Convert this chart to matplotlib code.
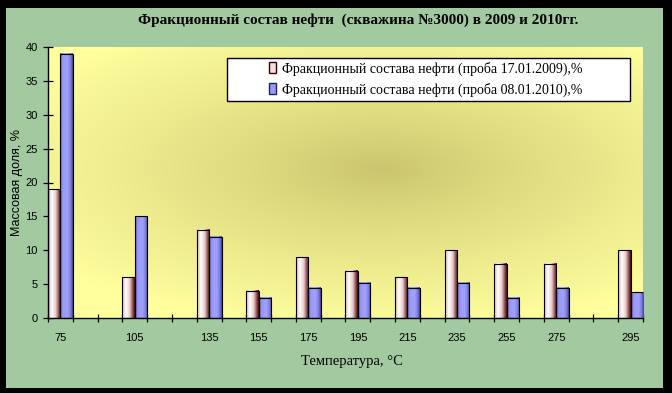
import numpy as np
import matplotlib
matplotlib.use('Agg')
from matplotlib import pyplot as plt
from matplotlib.colors import LinearSegmentedColormap
from matplotlib.patches import Rectangle

# категории оси X (пустые позиции - пропуски на оси)
temps = ['75', '', '', '105', '', '', '135', '', '155', '', '175', '',
         '195', '', '215', '', '235', '', '255', '', '275', '', '', '295']
nan = np.nan
s2009 = [19, nan, nan, 6, nan, nan, 13, nan, 4, nan, 9, nan,
         7, nan, 6, nan, 10, nan, 8, nan, 8, nan, nan, 10]
s2010 = [39, nan, nan, 15, nan, nan, 12, nan, 3, nan, 4.5, nan,
         5.2, nan, 4.5, nan, 5.2, nan, 3, nan, 4.5, nan, nan, 3.8]
labels = ['Фракционный состава нефти (проба 17.01.2009),%',
          'Фракционный состава нефти (проба 08.01.2010),%']

W, H = 672, 393
fig = plt.figure(figsize=(W / 100, H / 100), dpi=100)
fig.patch.set_facecolor('black')
fig.patches.append(Rectangle((6 / W, 1 - 388 / H), 657 / W, 380 / H,
                             transform=fig.transFigure, facecolor='#a2c9a0',
                             edgecolor='none', zorder=-1))

ax = fig.add_axes([48 / W, 1 - 318 / H, 595 / W, 271 / H])
ax.set_zorder(1)
ax.set_facecolor('none')

# фон области построения - радиальная заливка
gx, gy = np.meshgrid(np.linspace(0, 1, 300), np.linspace(0, 1, 200))
d = np.sqrt(((gx - 0.56) / 0.7) ** 2 + ((gy - 0.55) / 0.6) ** 2)
d = np.clip(d, 0, 1) ** 0.85
c_in = np.array([0.79, 0.77, 0.43])
c_out = np.array([1.0, 1.0, 0.62])
bg = c_in[None, None, :] * (1 - d[..., None]) + c_out[None, None, :] * d[..., None]
ax.imshow(bg, extent=(0, 1, 0, 1), transform=ax.transAxes, origin='lower',
          aspect='auto', zorder=0)

cm1 = LinearSegmentedColormap.from_list('c1', [(0, '#d9b3b3'), (0.3, '#ffffff'),
                                               (0.6, '#e8cccc'), (0.85, '#8a4a4a'),
                                               (1, '#4a0000')])
cm2 = LinearSegmentedColormap.from_list('c2', [(0, '#5050b0'), (0.2, '#9a9af5'),
                                               (0.6, '#a0a0ff'), (0.85, '#7878d8'),
                                               (1, '#404090')])
grad = np.linspace(0, 1, 64)[None, :]
x = np.arange(len(temps))
bw = 0.5
for vals, off, cmap in ((s2009, -bw / 2, cm1), (s2010, bw / 2, cm2)):
    for xi, v in zip(x, vals):
        if np.isnan(v):
            continue
        x0 = xi + off - bw / 2
        ax.imshow(grad, extent=(x0, x0 + bw, 0, v), cmap=cmap, aspect='auto', zorder=2)
    ax.bar(x + off, vals, width=bw, fill=False, edgecolor='black', linewidth=0.8, zorder=3)

ax.set_xlim(-0.5, len(temps) - 0.5)
ax.set_ylim(0, 40)

for s in ('top', 'right'):
    ax.spines[s].set_visible(False)
for s in ('left', 'bottom'):
    ax.spines[s].set_linewidth(1.0)
    ax.spines[s].set_zorder(4)

pos = [i for i, t in enumerate(temps) if t]
ax.set_xticks(pos)
ax.set_xticklabels([temps[i] for i in pos], fontsize=8, family='Liberation Sans')
ax.set_xticks(np.arange(len(temps) + 1) - 0.5, minor=True)
ax.tick_params(axis='x', which='major', length=0, pad=11)
ax.tick_params(axis='x', which='minor', direction='inout', length=6, width=0.9)
ax.set_yticks(np.arange(0, 41, 5))
ax.tick_params(axis='y', direction='inout', length=7, width=0.9, labelsize=8, pad=4)
for t in ax.get_yticklabels():
    t.set_family('Liberation Sans')

fig.text(358 / W, 1 - 20 / H, 'Фракционный состав нефти  (скважина №3000) в 2009 и 2010гг.',
         ha='center', va='center', fontsize=11, fontweight='bold', family='Liberation Serif')
fig.text(17 / W, 1 - 182 / H, 'Массовая доля, %', rotation=90, ha='center', va='center',
         fontsize=9, family='Liberation Sans')
fig.text(352 / W, 1 - 361 / H, 'Температура, °С', ha='center', va='center',
         fontsize=10.5, family='Liberation Serif')

# легенда
fig.patches.append(Rectangle((227 / W, 1 - 101 / H), 403 / W, 43 / H,
                             transform=fig.transFigure, facecolor='white',
                             edgecolor='black', linewidth=1.0, zorder=5))
handles = [Rectangle((0, 0), 1, 1, facecolor='#f2e0e0', edgecolor='#3a0000', linewidth=1.0),
           Rectangle((0, 0), 1, 1, facecolor='#9a9af5', edgecolor='#202060', linewidth=1.0)]
leg = fig.legend(handles, labels, loc='upper left', bbox_to_anchor=(256 / W, 1 - 49 / H),
                 frameon=False, prop={'family': 'Liberation Serif', 'size': 10},
                 handlelength=0.55, handleheight=0.8, handletextpad=0.4, labelspacing=0.5)
leg.set_zorder(6)

plt.savefig('out.png', dpi=100, facecolor=fig.get_facecolor())
